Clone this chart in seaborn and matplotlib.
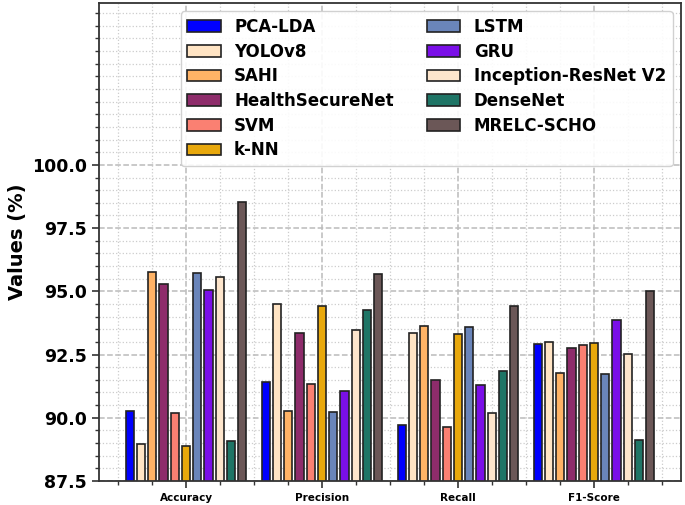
import numpy as np
import pandas as pd
import matplotlib
matplotlib.use('Agg')
import matplotlib.pyplot as plt
import seaborn as sns
from matplotlib.ticker import MultipleLocator, AutoMinorLocator

metrics = ['Accuracy', 'Precision', 'Recall', 'F1-Score']
models = ['PCA-LDA', 'YOLOv8', 'SAHI', 'HealthSecureNet', 'SVM', 'k-NN',
          'LSTM', 'GRU', 'Inception-ResNet V2', 'DenseNet', 'MRELC-SCHO']

accuracy = [90.28, 88.96, 95.78, 95.28, 90.18, 88.90, 95.72, 95.06, 95.56, 89.09, 98.55]
precision = [91.41, 94.50, 90.28, 93.36, 91.33, 94.41, 90.24, 91.06, 93.46, 94.28, 95.69]
recall = [89.71, 93.36, 93.62, 91.48, 89.65, 93.32, 93.57, 91.28, 90.18, 91.86, 94.41]
f1_score = [92.91, 93.00, 91.77, 92.77, 92.87, 92.95, 91.73, 93.87, 92.51, 89.13, 95.01]

colors = ['#0000FF', '#FFE4C4', '#FFB366', '#8E2C6B', '#FA8072', '#E8A80C',
          '#6A85BA', '#7A0FE8', '#FDE5CC', '#1F7566', '#6B5757']

rows = []
for metric, vals in zip(metrics, [accuracy, precision, recall, f1_score]):
    for model, v in zip(models, vals):
        rows.append({'Metric': metric, 'Model': model, 'Value': v})
df = pd.DataFrame(rows)

sns.set_style('ticks')
plt.rcParams['font.family'] = ['DejaVu Sans']
plt.rcParams['text.color'] = 'black'
plt.rcParams['xtick.color'] = 'black'
plt.rcParams['ytick.color'] = 'black'
plt.rcParams['axes.labelcolor'] = 'black'

fig = plt.figure(figsize=(6.85, 5.05), dpi=100)
ax = fig.add_axes([99 / 685, 1 - 481 / 505, 582 / 685, 478 / 505])

sns.barplot(data=df, x='Metric', y='Value', hue='Model', hue_order=models,
            palette=colors, width=0.91, gap=0.25, edgecolor='#222222',
            linewidth=1.2, saturation=1, ax=ax, legend=True)

ax.set_ylim(87.5, 106.4)
ax.set_xlim(-0.64, 3.64)
ax.set_yticks([87.5, 90.0, 92.5, 95.0, 97.5, 100.0])
ax.set_yticklabels(['87.5', '90.0', '92.5', '95.0', '97.5', '100.0'],
                   fontsize=12.5, fontweight='bold')
ax.yaxis.set_minor_locator(MultipleLocator(0.5))
ax.xaxis.set_minor_locator(AutoMinorLocator(4))
ax.set_xticks(range(len(metrics)))
ax.set_xticklabels(metrics, fontsize=7.5, fontweight='bold')
ax.set_xlabel('')
ax.set_ylabel('Values (%)', fontsize=14, fontweight='bold')

ax.tick_params(axis='both', which='major', direction='out', length=5, width=1.2,
               colors='#333333', labelcolor='black')
ax.tick_params(axis='both', which='minor', direction='out', length=3, width=1,
               colors='#333333')
ax.tick_params(axis='both', which='both', top=False, right=False)
ax.grid(True, which='major', linestyle='--', color='#BBBBBB', linewidth=1.1)
ax.grid(True, which='minor', linestyle=':', color='#CCCCCC', linewidth=0.9)
ax.set_axisbelow(True)
for s in ax.spines.values():
    s.set_visible(True)
    s.set_color('#333333')
    s.set_linewidth(1.3)

handles, labels = ax.get_legend_handles_labels()
leg = ax.legend(handles, labels, ncol=2, loc='upper right', labelspacing=0.4,
                prop={'weight': 'bold', 'size': 12}, framealpha=0.9)
leg.get_frame().set_edgecolor('#CCCCCC')

fig.savefig('out.png', dpi=100)
